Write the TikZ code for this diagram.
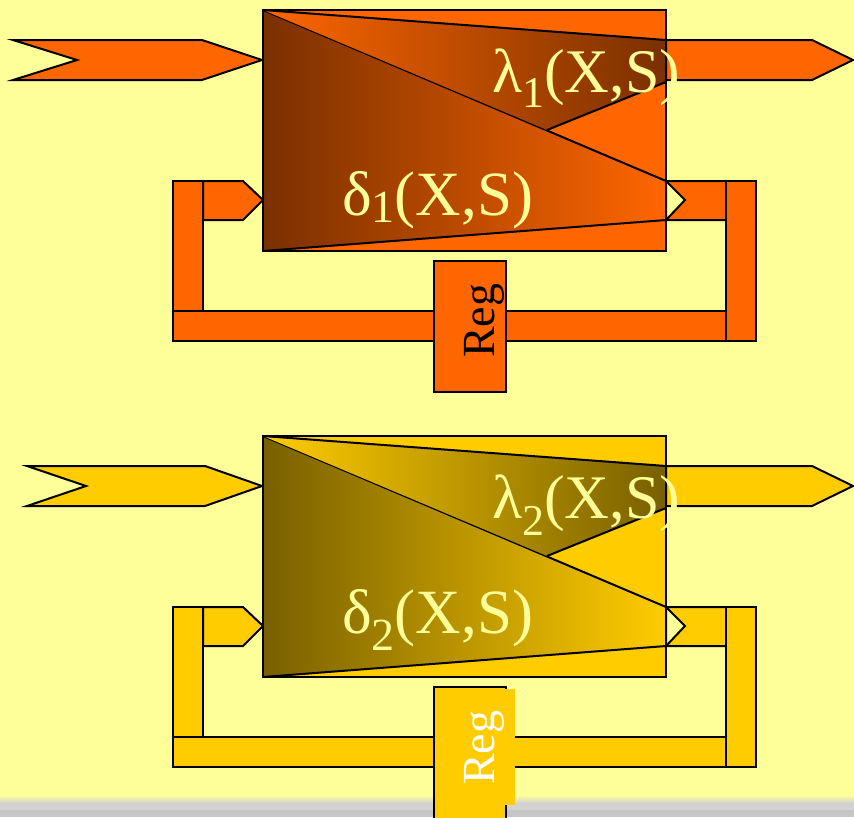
\documentclass[tikz,border=0pt]{standalone}
\usepackage{fontspec}
\setmainfont{Liberation Serif}
\definecolor{bg}{HTML}{FFFF99}
\definecolor{org}{HTML}{FF6600}
\definecolor{brn}{HTML}{7A3000}
\definecolor{ylw}{HTML}{FFCC00}
\definecolor{olv}{HTML}{786000}
\definecolor{txt}{HTML}{FFFF99}
\definecolor{strip}{HTML}{D2D2D2}
\tikzset{
  pipe/.style={draw=black, line width=2pt, line join=miter},
  lbl/.style={inner sep=0pt, anchor=base west, text=txt},
  reglbl/.style={inner sep=0pt, anchor=base west, rotate=90},
}
% #1 fill, #2 dark colour, #3 input tail x, #4 notch x, #5 tip start x
\newcommand\machine[5]{%
  \filldraw[pipe, fill=#1] (#3,40) -- (#5,40) -- (262,60) -- (#5,80) -- (#3,80) -- (#4,60) -- cycle;
  \filldraw[pipe, fill=#1] (666,40) -- (812,40) -- (853,60) -- (812,80) -- (666,80) -- cycle;
  \filldraw[pipe, fill=#1] (263,10) rectangle (666,251);
  \shade[left color=#2, right color=#1] (263,10) -- (666,181) -- (666,220) -- (263,251) -- cycle;
  \draw[pipe] (263,10) -- (666,181) -- (666,220) -- (263,251);
  \shade[left color=#1, right color=#2] (263,10) -- (666,40) -- (666,82) -- (547,130) -- cycle;
  \draw[pipe] (263,10) -- (666,40) (666,82) -- (547,130);
  \draw[pipe] (263,10) rectangle (666,251);
  \filldraw[pipe, fill=#1] (173,311) rectangle (756,341);
  \filldraw[pipe, fill=#1] (666,181) -- (726,181) -- (726,220) -- (666,220) -- (685,200) -- cycle;
  \filldraw[pipe, fill=#1] (726,181) rectangle (756,341);
  \filldraw[pipe, fill=#1] (173,181) rectangle (203,311);
  \filldraw[pipe, fill=#1] (203,181) -- (243,181) -- (263,200) -- (243,220) -- (203,220) -- cycle;
}
\begin{document}
\begin{tikzpicture}[x=1pt,y=-1pt]
\useasboundingbox (0,0) rectangle (854,817);
\fill[bg] (0,0) rectangle (854,817);
% footer strip
\shade[top color=bg, bottom color=strip] (0,795) rectangle (854,803);
\fill[strip] (0,803) rectangle (854,817);
\fill[strip!85!gray] (0,810) rectangle (854,817);
% top machine
\machine{org}{brn}{13}{77}{202}
\filldraw[pipe, fill=org] (434,261) rectangle (506,392);
\node[lbl] (lam1) at (492,92) {\fontsize{62}{64}\selectfont λ\raisebox{-15pt}{\fontsize{44}{44}\selectfont 1}(X,S)};
\node[lbl] (del1) at (342,215) {\fontsize{63}{65}\selectfont δ\raisebox{-7pt}{\fontsize{46}{46}\selectfont 1}(X,S)};
\node[reglbl, text=black] (reg1) at (494,358) {\fontsize{46}{46}\selectfont Reg};
% bottom machine
\begin{scope}[yshift=-426pt]
\machine{ylw}{olv}{27}{86}{205}
\end{scope}
\filldraw[pipe, fill=ylw] (434,687) rectangle (506,830);
\fill[ylw] (436,689) rectangle (515,805);
\node[lbl] (lam2) at (492,518) {\fontsize{62}{64}\selectfont λ\raisebox{-17pt}{\fontsize{44}{44}\selectfont 2}(X,S)};
\node[lbl] (del2) at (342,633) {\fontsize{63}{65}\selectfont δ\raisebox{-17pt}{\fontsize{46}{46}\selectfont 2}(X,S)};
\node[reglbl, text=white] (reg2) at (494,785) {\fontsize{46}{46}\selectfont Reg};
\end{tikzpicture}
\end{document}
